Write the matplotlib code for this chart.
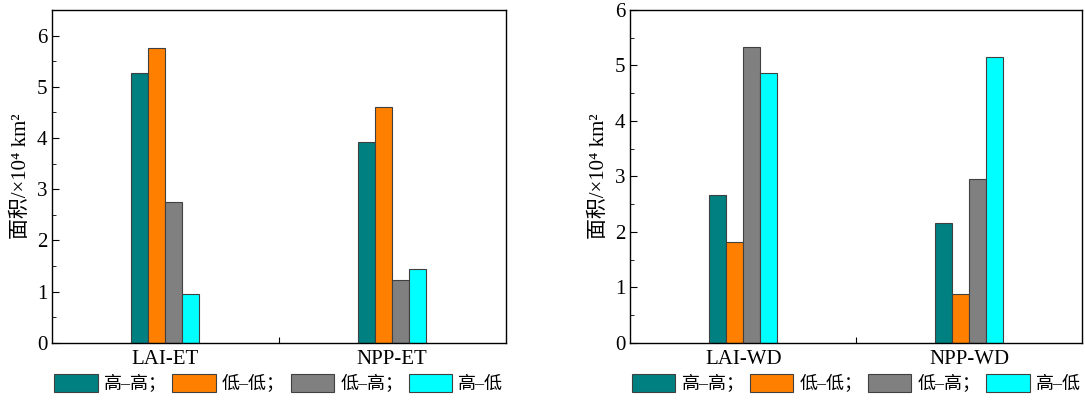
import numpy as np
import matplotlib.pyplot as plt
from matplotlib.patches import Patch
from matplotlib.ticker import MultipleLocator

plt.rcParams['font.family'] = ['Liberation Serif', 'Noto Sans CJK SC', 'DejaVu Sans']

series = ['高–高；', '低–低；', '低–高；', '高–低']
colors = ['#008080', '#ff8000', '#808080', '#00ffff']

groups_a = ['LAI-ET', 'NPP-ET']
vals_a = [[5.27, 3.92],   # 高-高
          [5.75, 4.60],   # 低-低
          [2.75, 1.22],   # 低-高
          [0.95, 1.45]]   # 高-低

groups_b = ['LAI-WD', 'NPP-WD']
vals_b = [[2.67, 2.16],
          [1.82, 0.88],
          [5.33, 2.96],
          [4.86, 5.15]]

fig = plt.figure(figsize=(10.85, 4.01), dpi=100)
ax1 = fig.add_axes([0.048, 0.145, 0.418, 0.83])
ax2 = fig.add_axes([0.581, 0.145, 0.4166, 0.83])

w = 0.075
x = np.arange(2)
for ax, groups, vals, ytop in [(ax1, groups_a, vals_a, 6.5), (ax2, groups_b, vals_b, 6)]:
    for i, v in enumerate(vals):
        ax.bar(x + (i - 1.5) * w, v, w, color=colors[i], edgecolor='#404040', linewidth=0.8)
    ax.set_xlim(-0.5, 1.5)
    ax.set_ylim(0, ytop)
    ax.yaxis.set_major_locator(MultipleLocator(1))
    ax.yaxis.set_minor_locator(MultipleLocator(0.5))
    ax.tick_params(axis='y', which='major', direction='in', length=5, labelsize=15)
    ax.tick_params(axis='y', which='minor', direction='in', length=3)
    # category labels without ticks, a single tick between groups
    ax.set_xticks([0.5])
    ax.set_xticklabels([''])
    ax.tick_params(axis='x', direction='in', length=4)
    for xi, g in zip(x, groups):
        ax.text(xi, -0.02, g, ha='center', va='top', fontsize=15,
                transform=ax.get_xaxis_transform())
    ax.set_ylabel('面积/×10⁴ km²', fontsize=15, labelpad=4)
    for s in ax.spines.values():
        s.set_linewidth(1.0)
    handles = [Patch(facecolor=c, edgecolor='#404040', linewidth=0.8) for c in colors]
    ax.legend(handles, series, loc='upper center', bbox_to_anchor=(0.5, -0.095), ncol=4,
              frameon=False, fontsize=13, handlelength=2.4, handleheight=1.1,
              handletextpad=0.35, columnspacing=0.3, borderaxespad=0, borderpad=0)

fig.savefig('out.png', dpi=100)
